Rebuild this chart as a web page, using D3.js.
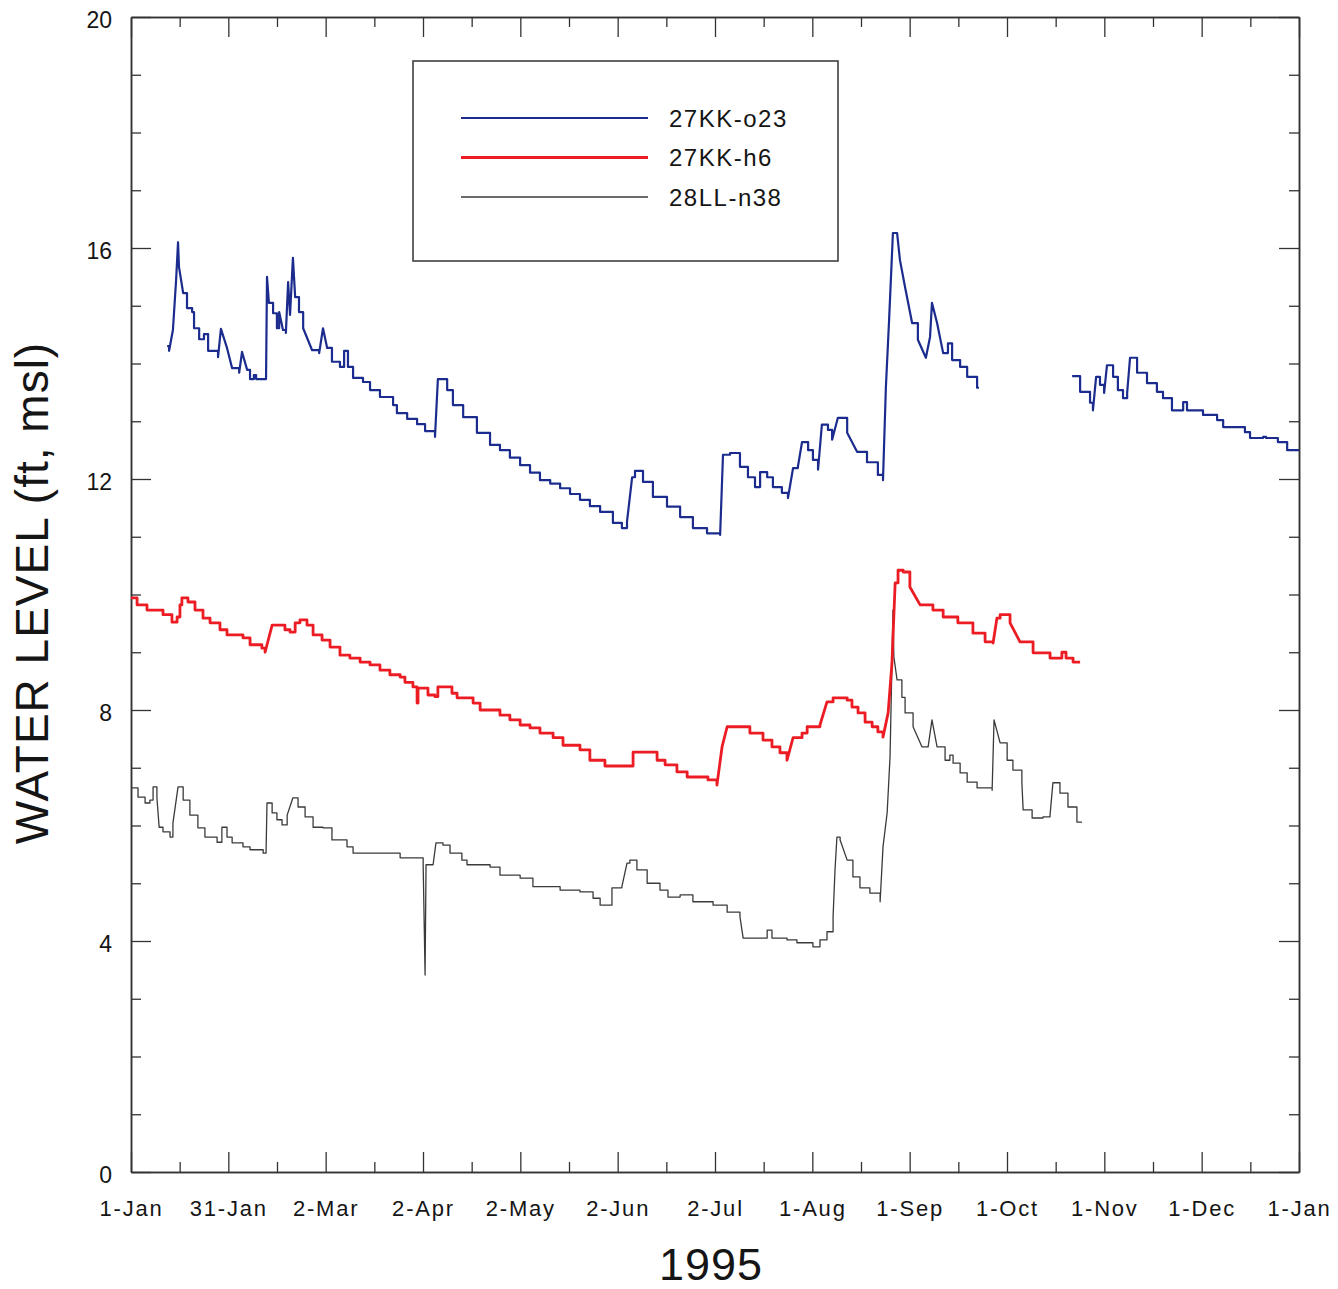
<!DOCTYPE html>
<html>
<head>
<meta charset="utf-8">
<script src="https://cdn.jsdelivr.net/npm/d3@7"></script>
<style>
  body { margin: 0; background: #fff; }
  text { font-family: "Liberation Sans", Arial, sans-serif; fill: #151515; }
</style>
</head>
<body>
<div id="chart"></div>
<script>
// water levels, 1995 -- [day of year, level ft msl]
var o23a = [[11.3,14.30],[11.9,14.22],[13.1,14.58],[14.1,15.45],[14.7,16.10],[15.0,15.67],[16.3,15.22],[17.5,14.96],
  [19.1,14.89],[19.7,14.61],[21.3,14.42],[22.8,14.51],[24.1,14.22],[27.2,14.11],[28.1,14.60],[30.0,14.27],[31.6,13.92],
  [33.8,13.84],[34.7,14.20],[36.3,13.89],[37.2,13.73],[38.4,13.80],[39.1,13.73],[42.2,13.73],[42.5,15.50],[43.1,15.05],
  [44.4,14.87],[45.6,14.61],[46.3,14.89],[47.5,14.58],[48.4,14.53],[49.1,15.41],[49.7,14.84],[50.6,15.83],[51.3,15.15],
  [52.5,14.89],[53.8,14.61],[56.6,14.23],[58.8,14.18],[60.0,14.61],[61.3,14.27],[62.8,14.03],[65.3,13.94],[66.6,14.22],
  [67.8,13.94],[69.4,13.75],[72.5,13.68],[74.7,13.54],[77.8,13.42],[81.9,13.28],[83.1,13.14],[86.3,13.04],[89.4,12.95],
  [91.9,12.83],[95.0,12.73],[95.9,13.73],[98.8,13.54],[100.6,13.28],[103.8,13.07],[108.1,12.80],[112.2,12.59],
  [115.3,12.50],[118.4,12.37],[121.6,12.24],[124.7,12.11],[127.8,11.98],[131.0,11.92],[134.1,11.84],[137.2,11.74],
  [140.3,11.64],[143.4,11.53],[146.6,11.43],[150.6,11.24],[153.4,11.15],[155.0,11.26],[156.6,12.03],[157.5,12.14],
  [160.0,11.95],[163.1,11.69],[167.5,11.52],[171.6,11.34],[175.6,11.15],[180.0,11.06],[184.1,11.03],[185.0,12.42],
  [187.2,12.45],[190.3,12.21],[192.8,12.03],[195.0,11.86],[196.6,12.12],[198.8,12.03],[200.6,11.86],[203.4,11.76],
  [205.3,11.67],[206.9,12.19],[208.4,12.21],[209.7,12.64],[211.6,12.50],[213.1,12.33],[214.7,12.16],[215.9,12.94],
  [217.8,12.85],[219.1,12.68],[220.9,13.06],[223.8,12.80],[226.9,12.47],[230.0,12.29],[233.4,12.07],[235.0,11.98],
  [235.9,13.59],[236.9,14.75],[238.1,16.26],[239.4,16.26],[240.3,15.79],[241.9,15.32],[244.1,14.70],[245.9,14.41],
  [248.4,14.10],[249.7,14.46],[250.3,15.05],[251.9,14.70],[253.8,14.18],[255.3,14.35],[256.6,14.06],[259.1,13.94],
  [261.3,13.77],[264.4,13.58],[265.0,13.58]];

var o23b = [[294.1,13.78],[296.6,13.51],[299.7,13.32],[300.6,13.19],[301.6,13.77],[302.8,13.63],[304.1,13.49],
  [305.0,13.97],[306.9,13.77],[308.4,13.54],[310.0,13.40],[311.3,13.49],[312.2,14.10],[314.4,13.84],[317.5,13.66],
  [320.6,13.51],[322.5,13.40],[325.3,13.19],[328.8,13.33],[330.0,13.19],[335.0,13.11],[339.4,13.02],[341.3,12.90],
  [348.1,12.81],[349.7,12.71],[353.8,12.73],[354.7,12.71],[358.4,12.64],[361.3,12.50],[365.0,12.50]];

var h6 = [[0,9.94],[1.9,9.82],[5.0,9.73],[10.0,9.65],[12.8,9.52],[14.4,9.61],[15.3,9.82],[15.9,9.94],[17.8,9.87],
  [20.0,9.73],[22.5,9.59],[24.7,9.51],[27.8,9.39],[30.0,9.30],[35.0,9.25],[37.2,9.13],[40.9,9.07],[41.9,9.00],
  [44.1,9.47],[47.2,9.47],[48.1,9.39],[49.7,9.35],[51.3,9.51],[52.8,9.56],[55.0,9.47],[56.9,9.30],[59.7,9.21],
  [62.2,9.09],[65.3,8.95],[68.4,8.90],[71.6,8.83],[74.7,8.78],[77.8,8.69],[80.9,8.61],[84.1,8.57],[85.6,8.48],
  [88.1,8.40],[89.4,8.12],[89.7,8.38],[92.8,8.26],[95.0,8.23],[95.9,8.40],[98.8,8.40],[100.3,8.29],[101.9,8.21],
  [105.3,8.21],[106.9,8.12],[109.1,8.00],[113.8,8.00],[115.3,7.91],[118.4,7.83],[121.6,7.74],[124.7,7.69],
  [127.8,7.60],[131.9,7.52],[135.0,7.39],[140.3,7.31],[143.4,7.13],[148.1,7.03],[155.3,7.03],[156.9,7.27],
  [162.2,7.27],[164.4,7.13],[166.9,7.05],[170.6,6.93],[173.8,6.84],[180.3,6.79],[183.1,6.70],[184.7,7.36],
  [186.3,7.71],[191.9,7.71],[193.4,7.60],[197.5,7.48],[200.3,7.36],[202.8,7.26],[205.0,7.13],[206.9,7.52],
  [209.7,7.60],[211.3,7.71],[215.3,7.74],[217.5,8.14],[219.4,8.21],[223.8,8.17],[225.3,8.05],[227.2,7.95],
  [229.4,7.79],[231.6,7.71],[233.4,7.62],[235.0,7.53],[236.6,7.95],[237.8,8.81],[238.8,10.20],[239.7,10.42],
  [241.3,10.39],[243.4,10.13],[246.6,9.82],[250.6,9.73],[253.8,9.61],[258.4,9.51],[263.1,9.33],[266.9,9.18],
  [269.4,9.16],[270.6,9.59],[271.6,9.65],[274.7,9.51],[277.8,9.18],[281.9,8.99],[287.2,8.90],[290.9,9.00],
  [292.2,8.90],[294.4,8.83],[296.6,8.83]];

var n38 = [[0,6.65],[2.2,6.49],[4.4,6.39],[5.9,6.44],[6.9,6.67],[8.1,6.48],[8.8,5.97],[10.0,5.89],[12.2,5.80],
  [13.1,6.04],[14.7,6.67],[16.3,6.44],[18.4,6.18],[20.9,5.96],[23.1,5.80],[26.9,5.71],[28.4,5.97],[30.0,5.80],
  [31.6,5.70],[35.0,5.63],[37.2,5.58],[41.3,5.52],[42.2,5.52],[42.5,6.39],[44.1,6.22],[45.6,6.10],[47.2,6.01],
  [48.8,6.18],[50.6,6.48],[52.2,6.32],[54.4,6.15],[56.9,5.97],[60.0,5.96],[62.8,5.75],[67.5,5.63],[69.4,5.52],
  [84.1,5.44],[91.3,5.32],[91.9,3.41],[92.2,5.32],[94.4,5.32],[95.3,5.70],[97.5,5.66],[99.7,5.52],[103.4,5.40],
  [105.0,5.32],[112.2,5.28],[115.3,5.14],[121.6,5.09],[125.6,4.94],[134.1,4.88],[140.3,4.85],[144.4,4.74],
  [146.6,4.62],[150.3,4.92],[153.4,4.94],[155.0,5.35],[155.9,5.40],[158.1,5.23],[161.3,5.00],[165.3,4.88],
  [167.8,4.76],[171.6,4.80],[175.6,4.68],[181.9,4.62],[186.3,4.50],[190.3,4.42],[191.3,4.05],[198.8,4.19],
  [200.3,4.05],[205.0,4.02],[208.1,3.97],[213.1,3.90],[215.3,4.02],[217.5,4.16],[219.4,4.42],[220.0,5.23],
  [220.6,5.80],[221.6,5.75],[223.8,5.40],[225.6,5.11],[227.8,4.92],[230.9,4.83],[234.1,4.68],[235.0,5.63],
  [236.3,6.22],[237.2,7.19],[237.8,8.81],[238.1,9.73],[238.4,8.92],[239.4,8.52],[240.9,8.22],[241.9,7.95],
  [244.4,7.71],[247.2,7.36],[249.1,7.36],[250.3,7.83],[251.9,7.36],[254.4,7.13],[255.9,7.22],[256.9,7.08],
  [259.1,6.91],[261.3,6.75],[264.4,6.65],[269.1,6.61],[269.7,7.83],[271.6,7.43],[273.8,7.13],[275.6,6.96],
  [278.4,6.74],[278.8,6.27],[281.6,6.13],[285.0,6.15],[287.2,6.18],[288.1,6.74],[290.3,6.56],[292.8,6.32],
  [295.6,6.06],[297.2,6.06]];

var monthLabels = ["1-Jan","31-Jan","2-Mar","2-Apr","2-May","2-Jun","2-Jul","1-Aug","1-Sep","1-Oct","1-Nov","1-Dec","1-Jan"];
var levelTicks = [0, 4, 8, 12, 16, 20];
var seriesNames = ["27KK-o23", "27KK-h6", "28LL-n38"];
var seriesColors = ["#1b2c8e", "#ec1c24", "#3a3a3a"];
var seriesWidths = [2.2, 2.8, 1.3];

// plot box (note: "top" is reserved on window, so use own names)
var W = 1338, H = 1289;
var plotL = 131, plotR = 1299, plotT = 17, plotB = 1172;

var svg = d3.select("#chart").append("svg")
  .attr("width", W).attr("height", H);

var x = d3.scaleLinear().domain([0, 365]).range([plotL, plotR]);
var y = d3.scaleLinear().domain([0, 20]).range([plotB, plotT]);

var step = 365 / 12;
var majorDays = d3.range(13).map(function (i) { return i * step; });
var minorDays = d3.range(12).map(function (i) { return (i + 0.5) * step; });
var minorLevels = d3.range(1, 20).filter(function (v) { return v % 4 != 0; });

function styleAxis(g) {
  g.selectAll(".domain").attr("stroke", "#333").attr("stroke-width", 1.5);
  g.selectAll(".tick line").attr("stroke", "#333").attr("stroke-width", 1.3);
}

// bottom
svg.append("g").attr("transform", "translate(0," + plotB + ")")
  .call(d3.axisBottom(x).tickValues(minorDays).tickSize(-10).tickSizeOuter(0).tickFormat(""))
  .call(styleAxis);
var xb = svg.append("g").attr("transform", "translate(0," + plotB + ")")
  .call(d3.axisBottom(x).tickValues(majorDays).tickSize(-20).tickSizeOuter(0).tickPadding(28)
    .tickFormat(function (d, i) { return monthLabels[i]; }))
  .call(styleAxis);
xb.selectAll("text").attr("font-size", 22).attr("letter-spacing", 1.8).attr("fill", "#151515")
  .attr("font-family", "Liberation Sans, Arial, sans-serif");

// top
svg.append("g").attr("transform", "translate(0," + plotT + ")")
  .call(d3.axisTop(x).tickValues(minorDays).tickSize(-10).tickSizeOuter(0).tickFormat(""))
  .call(styleAxis);
svg.append("g").attr("transform", "translate(0," + plotT + ")")
  .call(d3.axisTop(x).tickValues(majorDays).tickSize(-20).tickSizeOuter(0).tickFormat(""))
  .call(styleAxis);

// left
svg.append("g").attr("transform", "translate(" + plotL + ",0)")
  .call(d3.axisLeft(y).tickValues(minorLevels).tickSize(-10).tickSizeOuter(0).tickFormat(""))
  .call(styleAxis);
var yl = svg.append("g").attr("transform", "translate(" + plotL + ",0)")
  .call(d3.axisLeft(y).tickValues(levelTicks).tickSize(-20).tickSizeOuter(0).tickPadding(19).tickFormat(d3.format("d")))
  .call(styleAxis);
yl.selectAll("text").attr("font-size", 23).attr("dy", "0.45em").attr("fill", "#151515")
  .attr("font-family", "Liberation Sans, Arial, sans-serif");

// right
svg.append("g").attr("transform", "translate(" + plotR + ",0)")
  .call(d3.axisRight(y).tickValues(minorLevels).tickSize(-10).tickSizeOuter(0).tickFormat(""))
  .call(styleAxis);
svg.append("g").attr("transform", "translate(" + plotR + ",0)")
  .call(d3.axisRight(y).tickValues(levelTicks).tickSize(-20).tickSizeOuter(0).tickFormat(""))
  .call(styleAxis);

// recorder data: small changes show as stair steps, big ones as slopes
function stairs(pts) {
  var out = [pts[0]];
  for (var i = 1; i < pts.length; i++) {
    var a = pts[i - 1], b = pts[i];
    if (Math.abs(b[1] - a[1]) < 0.3) out.push([b[0], a[1]]);
    out.push(b);
  }
  return out;
}

var line = d3.line()
  .x(function (d) { return x(d[0]); })
  .y(function (d) { return y(d[1]); });

var segments = [
  { data: n38, s: 2 },
  { data: h6, s: 1 },
  { data: o23a, s: 0 },
  { data: o23b, s: 0 }
];
segments.forEach(function (seg) {
  svg.append("path")
    .datum(stairs(seg.data))
    .attr("d", line)
    .attr("fill", "none")
    .attr("stroke", seriesColors[seg.s])
    .attr("stroke-width", seriesWidths[seg.s])
    .attr("stroke-linejoin", "round");
});

// legend
var legend = svg.append("g").attr("transform", "translate(413,61)");
legend.append("rect")
  .attr("width", 425).attr("height", 200)
  .attr("fill", "#fff").attr("stroke", "#333").attr("stroke-width", 1.5);
seriesNames.forEach(function (name, i) {
  var ly = 57 + i * 39.5;
  legend.append("line")
    .attr("x1", 48).attr("x2", 235).attr("y1", ly).attr("y2", ly)
    .attr("stroke", seriesColors[i]).attr("stroke-width", seriesWidths[i]);
  legend.append("text")
    .attr("x", 256).attr("y", ly).attr("dy", "0.36em")
    .attr("font-size", 24).attr("letter-spacing", 1.5)
    .text(name);
});

// titles
svg.append("text")
  .attr("transform", "translate(48,593) rotate(-90)")
  .attr("text-anchor", "middle")
  .attr("font-size", 46).attr("letter-spacing", 1)
  .text("WATER LEVEL (ft, msl)");

svg.append("text")
  .attr("x", 711).attr("y", 1280)
  .attr("text-anchor", "middle")
  .attr("font-size", 45).attr("letter-spacing", 1)
  .text("1995");
</script>
</body>
</html>
